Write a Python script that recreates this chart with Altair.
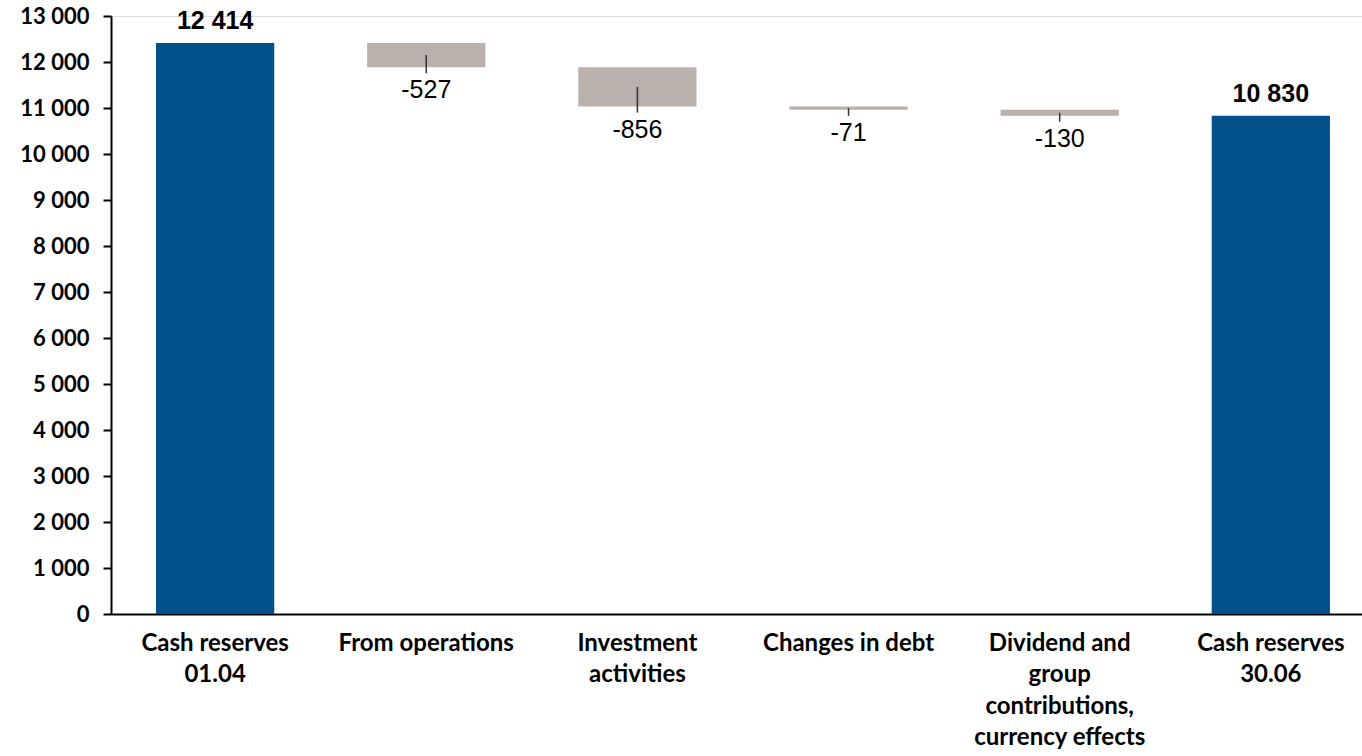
import altair as alt
import pandas as pd

categories = [
    "Cash reserves|01.04",
    "From operations",
    "Investment|activities",
    "Changes in debt",
    "Dividend and|group|contributions,|currency effects",
    "Cash reserves|30.06",
]
kinds = ["total", "delta", "delta", "delta", "delta", "total"]
values = [12414, -527, -856, -71, -130, 10830]
y_ticks = list(range(0, 13001, 1000))

rows = []
running = 0
for cat, kind, v in zip(categories, kinds, values):
    if kind == "total":
        start, end = 0, v
        running = v
        label = f"{v:,}".replace(",", " ")
    else:
        start, end = running, running + v
        running = end
        label = f"{v}"
    rows.append(dict(cat=cat, kind=kind, value=v, start=start, end=end,
                     low=min(start, end), high=max(start, end),
                     mid=(start + end) / 2, label=label))
df = pd.DataFrame(rows)

FONT_AX = "Lato"
x = alt.X("cat:N", sort=categories, title=None,
          scale=alt.Scale(paddingInner=0.44, paddingOuter=0.1825, align=0.584),
          axis=alt.Axis(labelAngle=0, labelExpr="split(datum.label, '|')",
                        labelFont=FONT_AX, labelFontWeight="bold", labelFontSize=24,
                        labelColor="black", labelLineHeight=31.5, labelPadding=17,
                        labelBaseline="top",
                        domainColor="black", domainWidth=2, ticks=False))
y_scale = alt.Scale(domain=[0, 13000], nice=False, zero=True)

base = alt.Chart(df)

bars = base.mark_bar().encode(
    x=x,
    y=alt.Y("start:Q", scale=y_scale, title=None,
            axis=alt.Axis(values=y_ticks, grid=False,
                          labelExpr="replace(format(datum.value, ','), ',', ' ')",
                          labelFont=FONT_AX, labelFontWeight="bold", labelFontSize=22,
                          labelColor="black", labelPadding=14,
                          domainColor="black", domainWidth=2,
                          tickColor="black", tickWidth=2, tickSize=8)),
    y2="end:Q",
    color=alt.Color("kind:N", scale=alt.Scale(domain=["total", "delta"],
                                              range=["#02508A", "#BAB1AD"]),
                    legend=None),
)

deltas = base.transform_filter(alt.datum.kind == "delta")
leaders = deltas.mark_rule(color="#333333", strokeWidth=1.5, y2Offset=6).encode(
    x=alt.X("cat:N", sort=categories),
    y=alt.Y("mid:Q", scale=y_scale),
    y2="low:Q",
)
delta_text = deltas.mark_text(font="Liberation Sans", fontSize=25, color="black",
                              baseline="alphabetic", dy=31).encode(
    x=alt.X("cat:N", sort=categories),
    y=alt.Y("low:Q", scale=y_scale),
    text="label:N",
)
total_text = base.transform_filter(alt.datum.kind == "total").mark_text(
    font="Liberation Sans", fontSize=25, fontWeight="bold", color="black",
    baseline="alphabetic", dy=-14).encode(
    x=alt.X("cat:N", sort=categories),
    y=alt.Y("high:Q", scale=y_scale),
    text="label:N",
)

chart = alt.layer(bars, leaders, delta_text, total_text).properties(
    width=1251, height=598,
    autosize=alt.AutoSizeParams(type="none"),
    padding={"left": 111, "top": 16, "right": 0, "bottom": 142},
).configure_view(stroke=None).configure(background="white")

chart.save("out.html", embed_options={"renderer": "svg", "actions": False})
